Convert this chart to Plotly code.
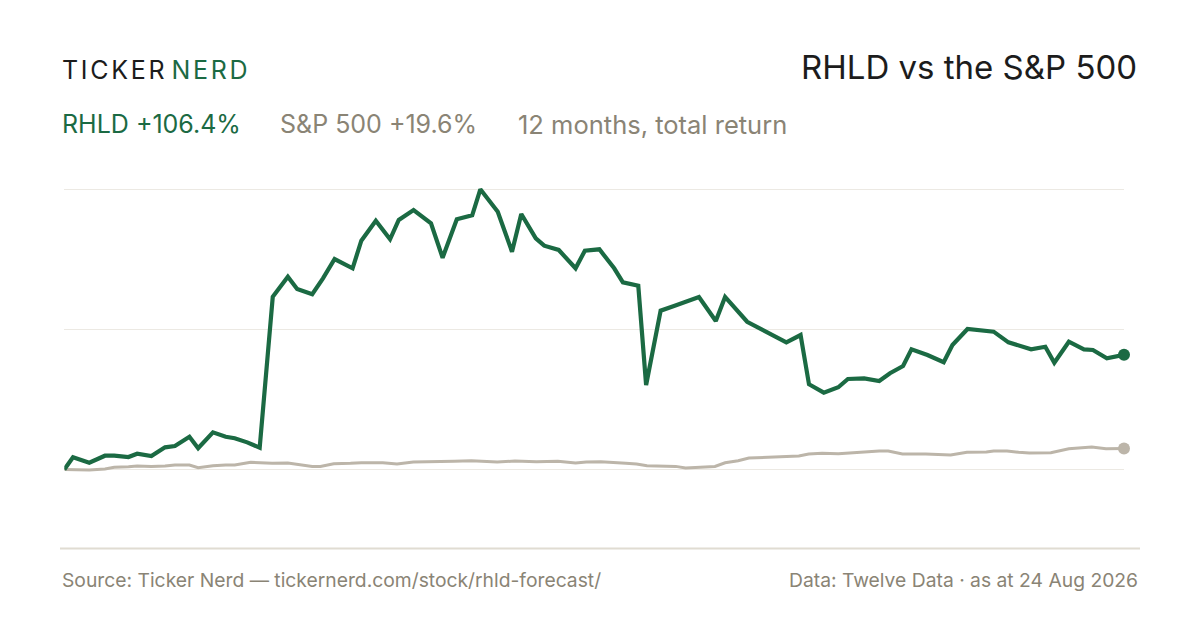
import pandas as pd
import plotly.graph_objects as go

# ---- data ----
rhld_days = [0, 3, 8.6, 14, 17.2, 22.1, 25.1, 30, 34.7, 38.1, 43.1, 46.1, 51.2, 55.6, 58.7, 63, 67.3,
             71.8, 77, 80.2, 85.4, 89.1, 93.1, 99.3, 102.3, 107.3, 112.2, 115.2, 120.3, 126.3, 130.3,
             135.2, 140.5, 143.3, 149.3, 154.2, 157.4, 162.4, 165.3, 170.3, 176.1, 179.3, 184.3,
             189.4, 192.4, 197.7, 200.4, 205.4, 210, 214.3, 218.6, 224.4, 227.6, 235.2, 238.9, 245,
             248.7, 253.6, 256.5, 261.6, 266.6, 269.9, 275.5, 280.7, 284.4, 288.9, 291.8, 297.3,
             302.9, 305.9, 311.1, 320.1, 325.2, 333, 337.9, 341, 346, 351.2, 354.3, 359.1, 362.9, 365]
rhld_return = [0, 11.3, 6.3, 12.8, 12.8, 11.6, 14.7, 12.5, 20.6, 21.8, 30.4, 19.7, 34.5, 30.4, 29.0,
               25.2, 20.2, 160.3, 178.9, 167.5, 162.6, 177.4, 195.3, 186.7, 212.3, 230.9, 213.6,
               231.5, 240.8, 228.5, 196.5, 232.2, 235.9, 260.0, 239.2, 202.1, 237.1, 214.5, 207.7,
               203.7, 186.7, 203.0, 204.3, 186.7, 173.7, 170.5, 78.4, 147.4, 151.7, 155.7, 160.1,
               137.8, 160.1, 137.1, 131.9, 124.2, 118.0, 124.8, 79.1, 71.3, 76.3, 84.0, 84.6, 82.1,
               89.3, 96.0, 111.5, 106.2, 99.5, 115.5, 130.4, 127.9, 118.0, 111.5, 113.9, 99.1, 118.6,
               111.5, 110.9, 103.2, 104.7, 106.4]

spx_days = [0, 8.6, 14, 17.2, 22.1, 25.1, 30, 34.7, 38.1, 43.1, 46.1, 51.2, 55.6, 58.7, 64.2, 71.6,
            77, 82.7, 85.4, 88.2, 92.8, 98.6, 102.3, 109.7, 114.6, 120.2, 129.4, 134.3, 140.2, 149.1,
            155.2, 162.6, 170, 176.1, 179.8, 184.8, 193.4, 197.1, 200.7, 210.6, 214, 224.1, 227.6,
            232.1, 235.8, 245, 253, 256.4, 261, 266.6, 274.5, 280.7, 283.8, 288.7, 296.7, 305.3,
            310.9, 317.6, 320.1, 324.7, 328.7, 332.4, 339.8, 346, 353.9, 358.8, 365]
spx_return = [0, -0.5, 0.5, 2.0, 2.6, 3.2, 2.9, 3.2, 4.2, 4.2, 1.7, 3.5, 4.2, 4.2, 6.7, 5.7, 6.0,
              4.2, 2.9, 2.9, 5.4, 5.7, 6.3, 6.3, 5.1, 7.0, 7.0, 7.6, 8.2, 7.0, 7.9, 7.2, 7.6, 6.0,
              7.0, 7.2, 5.7, 5.1, 3.5, 2.9, 1.4, 2.9, 6.3, 8.2, 10.7, 11.3, 12.5, 14.4, 15.0, 14.7,
              16.2, 17.2, 17.2, 14.4, 14.4, 13.5, 16.0, 16.2, 17.2, 17.2, 16.0, 15.3, 15.6, 19.3,
              20.9, 19.3, 19.6]

start_date = pd.Timestamp("2025-08-24")
grid_values = [0, 130, 260]

GREEN = "#1b6a43"
GREY_LINE = "#bcb5a9"
GREY_TEXT = "#8a8475"
DARK = "#1c1c1c"
FONT = "Inter"

rhld_x = start_date + pd.to_timedelta(rhld_days, unit="D")
spx_x = start_date + pd.to_timedelta(spx_days, unit="D")

W, H = 1200, 630
OFF = 8  # page offset of the rendered figure
px = lambda v: (v - OFF) / W
py = lambda v: 1 - (v - OFF) / H

fig = go.Figure()
fig.add_trace(go.Scatter(x=spx_x, y=spx_return, mode="lines",
                         line=dict(color=GREY_LINE, width=3), cliponaxis=False,
                         hoverinfo="skip"))
fig.add_trace(go.Scatter(x=[spx_x[-1]], y=[spx_return[-1]], mode="markers",
                         marker=dict(color=GREY_LINE, size=12), cliponaxis=False))
fig.add_trace(go.Scatter(x=rhld_x, y=rhld_return, mode="lines",
                         line=dict(color=GREEN, width=4.2), cliponaxis=False))
fig.add_trace(go.Scatter(x=[rhld_x[-1]], y=[rhld_return[-1]], mode="markers",
                         marker=dict(color=GREEN, size=12), cliponaxis=False))

fig.update_layout(
    width=W, height=H,
    margin=dict(l=0, r=0, t=0, b=0),
    paper_bgcolor="white", plot_bgcolor="white",
    showlegend=False,
    font=dict(family=FONT, color=DARK),
    xaxis=dict(domain=[px(64.3), px(1124)], range=[rhld_x[0], rhld_x[-1]],
               showgrid=False, zeroline=False, showticklabels=False, showline=False,
               fixedrange=True),
    yaxis=dict(domain=[py(540), py(170)], range=[-65.4, 277.9],
               tickvals=grid_values, showticklabels=False, showgrid=True,
               gridcolor="#ece9e3", gridwidth=1, zeroline=False, showline=False,
               fixedrange=True),
)

ann = []
ann.append(dict(x=px(60), y=py(70), xanchor="left", yanchor="middle",
                text=f'<span style="letter-spacing:2.7px">TICKE</span>'
                     f'<span style="letter-spacing:7px">R</span>'
                     f'<span style="letter-spacing:2.7px;color:{GREEN}">NERD</span>',
                font=dict(size=25, color=DARK, family=FONT)))
ann.append(dict(x=px(1139), y=py(67), xanchor="right", yanchor="middle",
                text="RHLD vs the S&P 500", font=dict(size=33, color=DARK, family=FONT)))
ann.append(dict(x=px(60), y=py(124), xanchor="left", yanchor="middle",
                text="RHLD +106.4%", font=dict(size=25, color=GREEN, family=FONT)))
ann.append(dict(x=px(278), y=py(124), xanchor="left", yanchor="middle",
                text="S&P 500 +19.6%", font=dict(size=25, color=GREY_TEXT, family=FONT)))
ann.append(dict(x=px(516), y=py(124), xanchor="left", yanchor="middle",
                text="12 months, total return", font=dict(size=25.5, color=GREY_TEXT, family=FONT)))
ann.append(dict(x=px(60), y=py(580), xanchor="left", yanchor="middle",
                text="Source: Ticker Nerd — tickernerd.com/stock/rhld-forecast/",
                font=dict(size=19.3, color=GREY_TEXT, family=FONT)))
ann.append(dict(x=px(1140), y=py(580), xanchor="right", yanchor="middle",
                text="Data: Twelve Data · as at 24 Aug 2026",
                font=dict(size=19.3, color=GREY_TEXT, family=FONT)))
for a in ann:
    a.update(xref="paper", yref="paper", showarrow=False)
fig.update_layout(annotations=ann)

fig.add_shape(type="line", xref="paper", yref="paper",
              x0=px(60), x1=px(1140), y0=py(548.5), y1=py(548.5),
              line=dict(color="#e0dcd2", width=2))

fig.write_html("out.html")
